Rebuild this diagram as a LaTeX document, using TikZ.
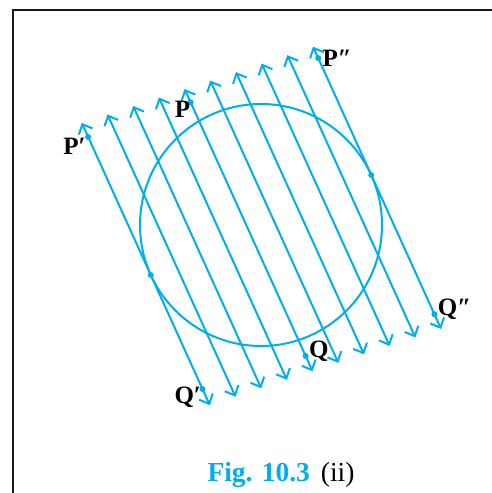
\documentclass[tikz,border=0pt]{standalone}
\usepackage{xcolor}
\usepackage{fontspec}
\setmainfont{Liberation Serif}
\usepackage{tikz}
\usetikzlibrary{arrows.meta, positioning, calc}
\definecolor{rayblue}{RGB}{0, 174, 239}
\definecolor{framedark}{RGB}{25, 25, 25}
\tikzset{
  x=1pt, y=1pt,
  chordline/.style={
    draw=rayblue, line width=2pt,
    {Straight Barb[length=8pt, width=15pt]}-{Straight Barb[length=8pt, width=15pt]}
  },
  ringline/.style={
    circle, draw=rayblue, line width=2pt, inner sep=0pt, minimum size=242pt
  },
  dotmark/.style={circle, fill=rayblue, inner sep=0pt, minimum size=6pt},
  ptlabel/.style={font=\bfseries\fontsize{25}{25}\selectfont, inner sep=1pt, text=black},
  capfont/.style={font=\fontsize{27.5}{27.5}\selectfont, inner sep=0pt},
  framerule/.style={draw=framedark, line width=2pt}
}

\begin{document}
\begin{tikzpicture}
  \useasboundingbox (0,0) rectangle (492,493);
  \draw[framerule] (13,0) -- (13,482.5) -- (492,482.5);

  \coordinate (centre) at (261,268);
  \node[ringline] (ring) at (centre) {};

  \begin{scope}[shift={(centre)}, rotate=24.4]
    \foreach \k in {0,...,9} {
      \coordinate (top\k) at ({(\k-4.5)*26.9}, {167-2.9*\k});
      \coordinate (bot\k) at ({(\k-4.5)*26.9}, {-143-2.9*\k});
    }
    \node[dotmark] (dot_p1) at (-121.05, 151.6) {};
    \node[dotmark] (dot_q1) at (-121.05, -125.2) {};
    \node[dotmark] (dot_p) at (-13.45, 140.9) {};
    \node[dotmark] (dot_q) at (-13.45, -137.7) {};
    \node[dotmark] (dot_p2) at (121.05, 128.4) {};
    \node[dotmark] (dot_q2) at (121.05, -152.9) {};
    \node[dotmark] (touch_l) at (-121.05, 0) {};
    \node[dotmark] (touch_r) at (121.05, 0) {};
  \end{scope}

  \foreach \k in {0,...,9} {
    \draw[chordline] (top\k) -- (bot\k);
  }

  \node[ptlabel, below left=-2pt and -1pt of dot_p1] (lbl_p1) {P′};
  \node[ptlabel, below left=-5pt and -3pt of dot_p] (lbl_p) {P};
  \node[ptlabel, right=0pt of dot_p2] (lbl_p2) {P″};
  \node[ptlabel, below left=-6pt and -2pt of dot_q1] (lbl_q1) {Q′};
  \node[ptlabel, above right=-9pt and 0pt of dot_q] (lbl_q) {Q};
  \node[ptlabel, above right=-9pt and 0pt of dot_q2] (lbl_q2) {Q″};

  \node[capfont, anchor=base] (fig_caption) at (281,11)
    {\textcolor{rayblue}{\bfseries Fig. 10.3}\hspace{11pt}(ii)};
\end{tikzpicture}
\end{document}
